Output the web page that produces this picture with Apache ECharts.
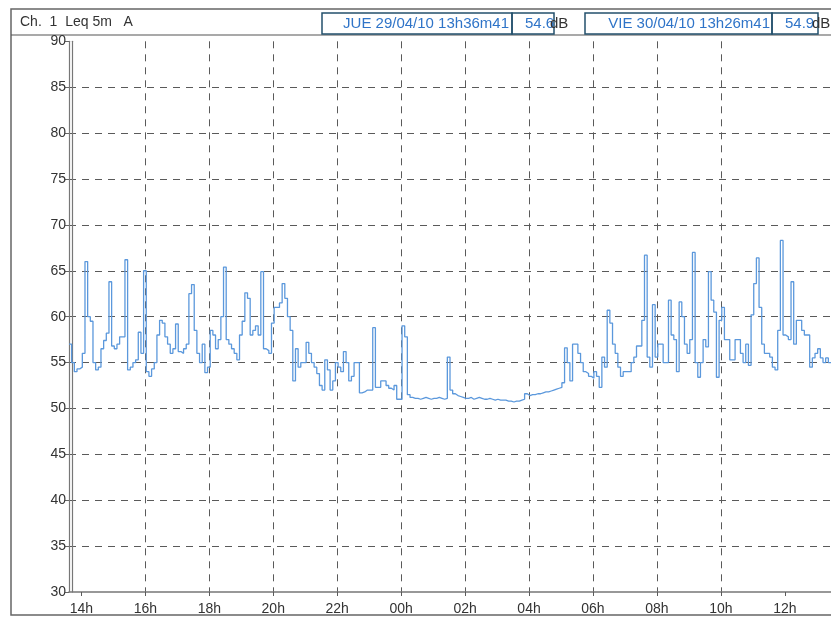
<!DOCTYPE html>
<html>
<head>
<meta charset="utf-8">
<script src="https://cdn.jsdelivr.net/npm/echarts@6/dist/echarts.min.js"></script>
<style>
html,body{margin:0;padding:0;background:#fff;}
#chart{width:831px;height:618px;}
</style>
</head>
<body>
<div id="chart"></div>
<script>
// ---- Data ----
const channelTitle = 'Ch.  1  Leq 5m   A';
const startLabel = 'JUE 29/04/10 13h36m41';
const startValue = '54.6';
const endLabel = 'VIE 30/04/10 13h26m41';
const endValue = '54.9';
const startHour = 13 + 36/60 + 41/3600;   // 13h36m41
const endHour = 24 + 13 + 26/60 + 41/3600; // next day 13h26m41
const stepMinutes = 5;

const tickHours = [14,16,18,20,22,24,26,28,30,32,34,36];
const tickLabels = ['14h','16h','18h','20h','22h','00h','02h','04h','06h','08h','10h','12h'];
const yTicks = [30,35,40,45,50,55,60,65,70,75,80,85,90];

// Leq 5 min values, dB(A)
const leqAfternoon = [57,55,54,54.3,54.5,56,66,60,59.5,55,54.2,54.5,
 56.5,57.4,58.2,63.8,56.8,56.5,57,57.8,57.8,66.2,54.2,54.5,
 55,55.3,58.3,56,65,54,53.5,54.3,55,58,59.6,59.3,
 57.8,57,56,56.5,59.2,56.2,56,56.5,57,62.5,63.5,58.5,
 56,55,57,53.9,54.5,58.5,58,56.5,57.5,60,65.4,57.5,
 57,56.5,56,55.3,58,59.5,62.6,62,58,58.5,59,58];
const leqEvening = [64.9,56.5,56.3,56,59.3,61,61,61.5,63.6,62,60,58.5,
 53,56.5,54.5,55,55,57.2,56,55,54.5,53.8,52.5,52,
 55.3,54.2,52,53,55,54.5,54,56.2,55,53,53.5,55,
 55,51.7,51.8,52,52,52,58.8,52.3,52.3,53,53,52.5,
 52.2,52,52.5,51,51,59,57.8,51.5,51.2,51.1,51.1,51.0,
 51.1,51.2,51.1,51.0,51.1,51.1,51.2,51.1,51.0,51.1,55.6,52];
const leqNight = [51.6,51.4,51.3,
 51.2,51.1,51.1,51.2,51.0,51.1,51.2,51.1,51.0,
 51.0,51.1,51.0,50.9,51.0,50.9,50.9,50.9,50.8,
 50.8,50.7,50.8,50.8,50.9,51.0,
 51.6,
 51.4,51.5,51.5,51.6,51.6,51.7,51.8,51.8,51.9,52.0,52.1,52.2,52.3,
 52.8,56.6,55,53,57,57,56,55,54,53.8,53.5,53.3,
 54,53.5,52.3,55.6,54.5,60.7,59.3,57,56,54.5,53.5,54,
 54,54,55,55.6,56.8,56.8,59.6];
const leqMorning = [66.7,55.6,54.5,61.3,55.6,57,57,55,55,61.8,58,57.5,
 54,61.6,60,57,56,57.5,67,55,53.4,55,57.5,56.7,
 64.9,61.8,60.5,53.4,59.6,61,57.5,57.5,55.3,55.3,57.5,57.5,
 56,55,57,54.7,60.2,63.6,66.4,61,57,56,56,55.6,
 54.5,54.2,58.5,68.3,58,57.8,57.5,63.8,57,59.6,59.6,58.5,
 58,58,54.5,55.5,56,56.5,55.5,55,55.5,55];

// ---- Build ----
const leqValues = leqAfternoon.concat(leqEvening, leqNight, leqMorning);
const seriesData = leqValues.map((v, i) => [startHour + i * stepMinutes / 60, v]);
seriesData.push([endHour, leqValues[leqValues.length - 1]]);

const FONT = '"Liberation Sans Narrow", "Liberation Sans", Arial, sans-serif';
const gridColor = '#5a5a5a';
const frameColor = '#23506c';
const blue = '#2f74c8';

const chart = echarts.init(document.getElementById('chart'), null, {renderer: 'canvas'});
chart.setOption({
  animation: false,
  backgroundColor: '#fff',
  grid: {left: 69, right: -5, top: 41.3, bottom: 26, containLabel: false},
  xAxis: {
    type: 'value',
    min: startHour,
    max: endHour,
    axisLine: {show: true, onZero: false, lineStyle: {color: '#777', width: 1.5}},
    axisTick: {show: true, customValues: tickHours, length: 8, inside: false,
      lineStyle: {color: gridColor, width: 1, type: [4, 4]}},
    axisLabel: {show: true, customValues: tickHours, margin: 10,
      formatter: v => tickLabels[tickHours.indexOf(Math.round(v))] || '',
      color: '#333', fontSize: 14, fontFamily: FONT},
    splitLine: {show: true, showMinLine: false, showMaxLine: false,
      lineStyle: {color: gridColor, width: 1, type: [7, 6]}}
  },
  yAxis: [{
    type: 'value',
    min: 30, max: 90, interval: 5,
    axisLine: {show: true, lineStyle: {color: '#777', width: 1.2}},
    axisTick: {show: true, length: 4, lineStyle: {color: '#666'}},
    axisLabel: {show: true, margin: 3, color: '#333', fontSize: 14, fontFamily: FONT,
      formatter: v => yTicks.indexOf(v) >= 0 ? String(v) : ''},
    splitLine: {show: true, showMinLine: false, showMaxLine: false,
      lineStyle: {color: gridColor, width: 1, type: [7, 6]}}
  }, {
    type: 'value',
    min: 30, max: 90, position: 'left', offset: -3,
    axisLine: {show: true, lineStyle: {color: '#777', width: 1.2}},
    axisTick: {show: false}, axisLabel: {show: false}, splitLine: {show: false}
  }],
  series: [{
    type: 'line',
    step: 'end',
    data: seriesData,
    showSymbol: false,
    symbol: 'none',
    lineStyle: {color: '#5b98dc', width: 1.3},
    clip: true
  }],
  graphic: [
    {type: 'rect', shape: {x: 11, y: 9, width: 840, height: 606}, style: {fill: 'none', stroke: '#666', lineWidth: 1.5}, silent: true},
    {type: 'line', shape: {x1: 11, y1: 35, x2: 831, y2: 35}, style: {stroke: '#555', lineWidth: 1.2}, silent: true},
    {type: 'text', x: 20, y: 22, style: {text: channelTitle, fill: '#333', font: '14px ' + FONT, textVerticalAlign: 'middle'}},
    {type: 'rect', shape: {x: 322, y: 13, width: 190, height: 21}, style: {fill: 'none', stroke: frameColor, lineWidth: 1.5}},
    {type: 'rect', shape: {x: 512, y: 13, width: 42, height: 21}, style: {fill: 'none', stroke: frameColor, lineWidth: 1.5}},
    {type: 'text', x: 509, y: 24, style: {text: startLabel, fill: blue, font: '15px ' + FONT, textAlign: 'right', textVerticalAlign: 'middle'}},
    {type: 'text', x: 525, y: 24, style: {text: startValue, fill: blue, font: '15px ' + FONT, textVerticalAlign: 'middle'}},
    {type: 'text', x: 550, y: 24, style: {text: 'dB', fill: '#333', font: '15px ' + FONT, textVerticalAlign: 'middle'}},
    {type: 'rect', shape: {x: 585, y: 13, width: 187, height: 21}, style: {fill: 'none', stroke: frameColor, lineWidth: 1.5}},
    {type: 'rect', shape: {x: 772, y: 13, width: 46, height: 21}, style: {fill: 'none', stroke: frameColor, lineWidth: 1.5}},
    {type: 'text', x: 770, y: 24, style: {text: endLabel, fill: blue, font: '15px ' + FONT, textAlign: 'right', textVerticalAlign: 'middle'}},
    {type: 'text', x: 785, y: 24, style: {text: endValue, fill: blue, font: '15px ' + FONT, textVerticalAlign: 'middle'}},
    {type: 'text', x: 812, y: 24, style: {text: 'dB', fill: '#333', font: '15px ' + FONT, textVerticalAlign: 'middle'}}
  ]
});
</script>
</body>
</html>
